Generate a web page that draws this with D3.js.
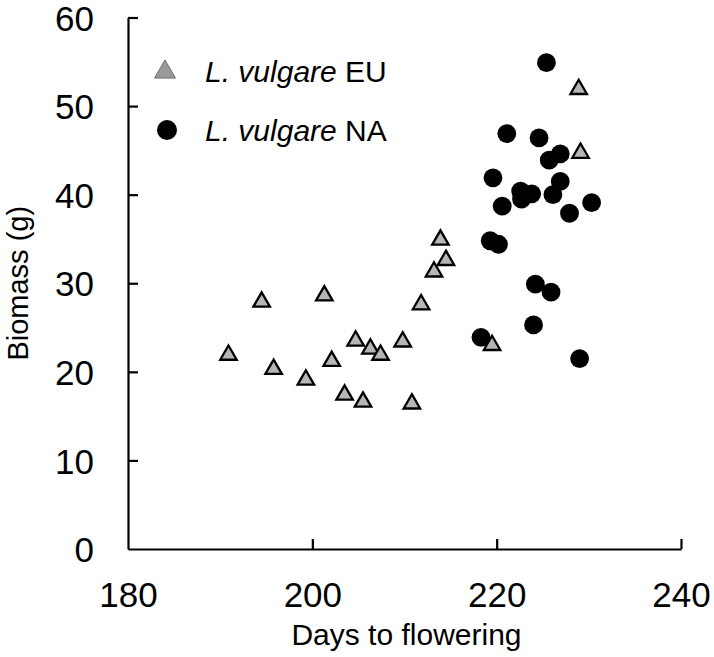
<!DOCTYPE html>
<html>
<head>
<meta charset="utf-8">
<script src="https://cdn.jsdelivr.net/npm/d3@7"></script>
<style>
  html, body { margin: 0; padding: 0; background: #fff; }
  svg { display: block; font-family: "Liberation Sans", Arial, sans-serif; }
</style>
</head>
<body>
<svg id="chart" width="714" height="657"></svg>
<script>
// ---- data ----
const seriesNames = ["L. vulgare EU", "L. vulgare NA"];
const euDays = [190.9, 194.5, 195.8, 199.3, 201.3, 202.1, 203.5, 204.7, 205.5, 206.3, 207.4, 209.8, 210.8, 211.8, 213.2, 213.9, 214.5, 219.5, 228.9, 229.1];
const euBiomass = [21.9, 27.9, 20.3, 19.1, 28.6, 21.2, 17.4, 23.5, 16.6, 22.6, 21.9, 23.4, 16.4, 27.6, 31.3, 34.9, 32.6, 23.0, 51.9, 44.7];
const naDays = [218.3, 219.3, 219.6, 220.2, 220.6, 221.1, 222.6, 222.7, 223.8, 224.0, 224.2, 224.6, 225.4, 225.7, 225.9, 226.1, 226.9, 226.9, 227.9, 229.0, 230.3];
const naBiomass = [23.9, 34.8, 41.9, 34.4, 38.7, 46.9, 40.4, 39.5, 40.1, 25.3, 29.9, 46.4, 54.9, 43.9, 29.0, 40.0, 44.6, 41.5, 37.9, 21.5, 39.1];
const xTicks = [180, 200, 220, 240];
const yTicks = [0, 10, 20, 30, 40, 50, 60];
const xTitle = "Days to flowering";
const yTitle = "Biomass (g)";

// ---- layout ----
const svg = d3.select("#chart");
const x = d3.scaleLinear().domain([180, 240]).range([128, 681]);
const y = d3.scaleLinear().domain([0, 60]).range([549, 17.5]);

// axes
const xAxis = d3.axisBottom(x).tickValues(xTicks).tickSizeInner(-10).tickSizeOuter(0).tickFormat(d3.format("d")).tickPadding(0);
const gx = svg.append("g").attr("transform", `translate(0,${y(0)})`).call(xAxis);
gx.select(".domain").attr("stroke", "#000").attr("stroke-width", 2.2);
gx.selectAll(".tick line").attr("stroke", "#000").attr("stroke-width", 2.2);
gx.selectAll(".tick").filter(d => d === 180).select("line").remove();
gx.selectAll(".tick text").attr("y", 58).attr("dy", 0)
  .attr("font-size", 35).attr("fill", "#000").attr("font-family", "Liberation Sans, Arial, sans-serif");

const yAxis = d3.axisLeft(y).tickValues(yTicks).tickSizeInner(-10).tickSizeOuter(0).tickFormat(d3.format("d"));
const gy = svg.append("g").attr("transform", `translate(${x(180)},0)`).call(yAxis);
gy.select(".domain").attr("stroke", "#000").attr("stroke-width", 2.2);
gy.selectAll(".tick line").attr("stroke", "#000").attr("stroke-width", 2.2);
gy.selectAll(".tick").filter(d => d === 0).select("line").remove();
gy.selectAll(".tick text").attr("x", -34).attr("dy", "0.36em")
  .attr("font-size", 35).attr("fill", "#000").attr("font-family", "Liberation Sans, Arial, sans-serif");

// axis titles
svg.append("text").attr("x", (x(180) + x(240)) / 2 + 2).attr("y", 645)
  .attr("text-anchor", "middle").attr("font-size", 30).attr("fill", "#000").text(xTitle);
svg.append("text").attr("transform", `translate(28,${(y(0) + y(60)) / 2}) rotate(-90)`)
  .attr("text-anchor", "middle").attr("font-size", 29).attr("fill", "#000").text(yTitle);

// points: NA circles first, EU triangles on top
const naData = naDays.map((d, i) => ({ d, b: naBiomass[i] }));
const euData = euDays.map((d, i) => ({ d, b: euBiomass[i] }));

svg.append("g").selectAll("circle").data(naData).join("circle")
  .attr("cx", p => x(p.d)).attr("cy", p => y(p.b)).attr("r", 9.4)
  .attr("fill", "#000");

const tri = d3.symbol().type(d3.symbolTriangle).size(118);
svg.append("g").selectAll("path").data(euData).join("path")
  .attr("d", tri)
  .attr("transform", p => `translate(${x(p.d)},${y(p.b)})`)
  .attr("fill", "#b6b6b6").attr("stroke", "#000").attr("stroke-width", 2.3)
  .attr("stroke-linejoin", "miter");

// legend
const legend = svg.append("g");
legend.append("path").attr("d", d3.symbol().type(d3.symbolTriangle).size(190))
  .attr("transform", "translate(165,72)")
  .attr("fill", "#9a9a9a").attr("stroke", "#6e6e6e").attr("stroke-width", 1);
legend.append("circle").attr("cx", 167).attr("cy", 130).attr("r", 10).attr("fill", "#000");

function legendText(yPos, name) {
  const parts = name.split(" ");
  const t = legend.append("text").attr("x", 205).attr("y", yPos).attr("font-size", 30).attr("fill", "#000");
  t.append("tspan").attr("font-style", "italic").text(parts[0] + " " + parts[1]);
  t.append("tspan").text(" " + parts[2]);
}
legendText(82, seriesNames[0]);
legendText(141, seriesNames[1]);
</script>
</body>
</html>
